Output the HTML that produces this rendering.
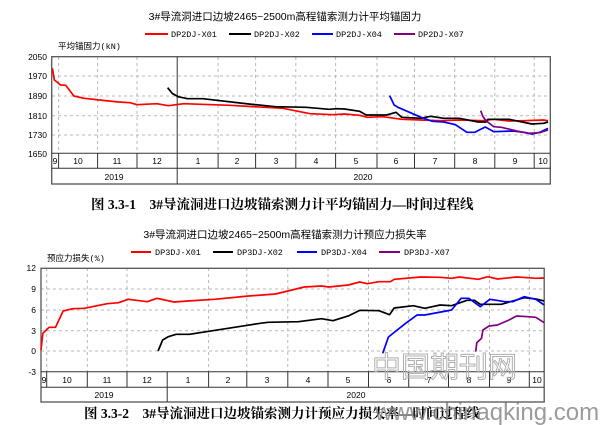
<!DOCTYPE html>
<html><head><meta charset="utf-8"><style>
html,body{margin:0;padding:0;background:#fff;}
svg{display:block;}
text{font-family:"Liberation Sans","Noto Sans CJK SC",sans-serif;}
.m{font-family:"Liberation Mono","Noto Sans CJK SC",monospace;font-size:8.5px;fill:#000;}
.t{font-size:10.5px;fill:#000;}
.cap{font-family:"Liberation Serif","Noto Serif CJK SC",serif;font-weight:bold;font-size:13.5px;fill:#000;}
.g{stroke:#b8b8b8;stroke-width:1;stroke-dasharray:3,3;fill:none;}
.s{fill:none;stroke-width:1.7;vector-effect:non-scaling-stroke;stroke-linejoin:round;}
</style></head><body>
<svg width="600" height="425" viewBox="0 0 600 425" xmlns="http://www.w3.org/2000/svg">
<!-- Chart 1 -->
<text x="285" y="20" class="t" text-anchor="middle">3#导流洞进口边坡2465~2500m高程锚索测力计平均锚固力</text>
<line x1="145" y1="34" x2="168" y2="34" stroke="#f00" stroke-width="2"/><text x="171" y="37" class="m">DP2DJ-X01</text>
<line x1="229" y1="34" x2="251" y2="34" stroke="#000" stroke-width="2"/><text x="254" y="37" class="m">DP2DJ-X02</text>
<line x1="312" y1="34" x2="333" y2="34" stroke="#00f" stroke-width="2"/><text x="336" y="37" class="m">DP2DJ-X04</text>
<line x1="394" y1="34" x2="415" y2="34" stroke="#800080" stroke-width="2"/><text x="418" y="37" class="m">DP2DJ-X07</text>
<text x="58" y="49" class="m" font-size="9">平均锚固力(kN)</text>
<g class="m" text-anchor="end" font-size="9">
<text x="47" y="60">2050</text><text x="47" y="79">1970</text><text x="47" y="99">1890</text><text x="47" y="119">1810</text><text x="47" y="138">1730</text><text x="47" y="157">1650</text></g>
<g class="g">
<line x1="52" y1="76" x2="550" y2="76"/><line x1="52" y1="96" x2="550" y2="96"/><line x1="52" y1="115.7" x2="550" y2="115.7"/><line x1="52" y1="135" x2="550" y2="135"/>
<line x1="58.6" y1="57" x2="58.6" y2="153"/><line x1="97.6" y1="57" x2="97.6" y2="153"/><line x1="137" y1="57" x2="137" y2="153"/><line x1="218.1" y1="57" x2="218.1" y2="153"/><line x1="255.6" y1="57" x2="255.6" y2="153"/><line x1="295.8" y1="57" x2="295.8" y2="153"/><line x1="335.6" y1="57" x2="335.6" y2="153"/><line x1="377" y1="57" x2="377" y2="153"/><line x1="414.5" y1="57" x2="414.5" y2="153"/><line x1="454.7" y1="57" x2="454.7" y2="153"/><line x1="494.8" y1="57" x2="494.8" y2="153"/><line x1="534.2" y1="57" x2="534.2" y2="153"/>
</g>
<rect x="51.7" y="56.7" width="498.6" height="127.3" fill="none" stroke="#555" stroke-width="1.3"/>
<line x1="51.7" y1="153.3" x2="550.3" y2="153.3" stroke="#333"/><line x1="51.7" y1="168.3" x2="550.3" y2="168.3" stroke="#333"/>
<g stroke="#333">
<line x1="58.6" y1="153.3" x2="58.6" y2="168.3"/><line x1="97.6" y1="153.3" x2="97.6" y2="168.3"/><line x1="137" y1="153.3" x2="137" y2="168.3"/><line x1="177.2" y1="56.7" x2="177.2" y2="184"/><line x1="218.1" y1="153.3" x2="218.1" y2="168.3"/><line x1="255.6" y1="153.3" x2="255.6" y2="168.3"/><line x1="295.8" y1="153.3" x2="295.8" y2="168.3"/><line x1="335.6" y1="153.3" x2="335.6" y2="168.3"/><line x1="377" y1="153.3" x2="377" y2="168.3"/><line x1="414.5" y1="153.3" x2="414.5" y2="168.3"/><line x1="454.7" y1="153.3" x2="454.7" y2="168.3"/><line x1="494.8" y1="153.3" x2="494.8" y2="168.3"/><line x1="534.2" y1="153.3" x2="534.2" y2="168.3"/>
</g>
<g class="m" text-anchor="middle" font-size="9">
<text x="55" y="164">9</text><text x="78" y="164">10</text><text x="117" y="164">11</text><text x="157" y="164">12</text><text x="198" y="164">1</text><text x="237" y="164">2</text><text x="276" y="164">3</text><text x="316" y="164">4</text><text x="356" y="164">5</text><text x="396" y="164">6</text><text x="435" y="164">7</text><text x="475" y="164">8</text><text x="515" y="164">9</text><text x="543" y="164">10</text>
<text x="114" y="180">2019</text><text x="363" y="180">2020</text></g>
<g transform="scale(0.38270,0.33333)">
<polyline class="s" stroke="#f00" points="137,205 142,240 150,247 158,255 172,256 193,288 220,295 260,300 310,306 340,308 358,314 410,311 440,317 480,311 600,316 740,325 810,341 870,344 900,342 940,346 960,352 1000,350 1050,358 1100,360 1150,362 1200,360 1260,362 1290,358 1330,363 1370,362 1420,360 1432,362"/>
<polyline class="s" stroke="#000" points="438,263 450,280 465,290 490,296 530,296 650,312 720,320 800,322 860,328 880,326 900,327 940,334 957,345 1010,345 1035,337 1050,352 1100,355 1125,349 1160,355 1200,355 1250,366 1270,366 1275,358 1330,358 1390,372 1420,370 1432,366"/>
<polyline class="s" stroke="#00f" points="1018,287 1030,315 1040,322 1100,352 1130,364 1160,366 1190,374 1220,397 1240,397 1268,381 1290,395 1340,393 1370,397 1390,402 1410,397 1432,385"/>
<polyline class="s" stroke="#800080" points="1256,332 1262,350 1270,362 1290,380 1310,382 1350,393 1380,400 1410,398 1432,390"/>
</g>
<text x="91" y="209" class="cap">图 3.3-1　3#导流洞进口边坡锚索测力计平均锚固力—时间过程线</text>

<!-- Chart 2 -->
<text x="285" y="238" class="t" text-anchor="middle">3#导流洞进口边坡2465~2500m高程锚索测力计预应力损失率</text>
<line x1="131" y1="252" x2="151" y2="252" stroke="#f00" stroke-width="2"/><text x="155" y="255" class="m">DP3DJ-X01</text>
<line x1="213" y1="252" x2="233" y2="252" stroke="#000" stroke-width="2"/><text x="237" y="255" class="m">DP3DJ-X02</text>
<line x1="297" y1="252" x2="317" y2="252" stroke="#00f" stroke-width="2"/><text x="321" y="255" class="m">DP3DJ-X04</text>
<line x1="379" y1="252" x2="400" y2="252" stroke="#800080" stroke-width="2"/><text x="404" y="255" class="m">DP3DJ-X07</text>
<text x="47" y="261" class="m" font-size="9">预应力损失(%)</text>
<g class="m" text-anchor="end" font-size="9">
<text x="36" y="271">12</text><text x="36" y="292">9</text><text x="36" y="313">6</text><text x="36" y="334">3</text><text x="36" y="354">0</text><text x="36" y="375">-3</text></g>
<g class="g">
<line x1="41" y1="289" x2="544" y2="289"/><line x1="41" y1="310" x2="544" y2="310"/><line x1="41" y1="330.7" x2="544" y2="330.7"/><line x1="41" y1="351" x2="544" y2="351"/>
<line x1="46.7" y1="268" x2="46.7" y2="372"/><line x1="87.3" y1="268" x2="87.3" y2="372"/><line x1="127" y1="268" x2="127" y2="372"/><line x1="208.6" y1="268" x2="208.6" y2="372"/><line x1="246.8" y1="268" x2="246.8" y2="372"/><line x1="287.8" y1="268" x2="287.8" y2="372"/><line x1="328" y1="268" x2="328" y2="372"/><line x1="368.5" y1="268" x2="368.5" y2="372"/><line x1="408.7" y1="268" x2="408.7" y2="372"/><line x1="448.5" y1="268" x2="448.5" y2="372"/><line x1="489.5" y1="268" x2="489.5" y2="372"/><line x1="529.3" y1="268" x2="529.3" y2="372"/>
</g>
<rect x="41" y="268.3" width="503.2" height="133.7" fill="none" stroke="#555" stroke-width="1.3"/>
<line x1="41" y1="371.7" x2="544.2" y2="371.7" stroke="#333"/><line x1="41" y1="387.3" x2="544.2" y2="387.3" stroke="#333"/>
<g stroke="#333">
<line x1="46.7" y1="371.7" x2="46.7" y2="387.3"/><line x1="87.3" y1="371.7" x2="87.3" y2="387.3"/><line x1="127" y1="371.7" x2="127" y2="387.3"/><line x1="167.2" y1="371.7" x2="167.2" y2="402"/><line x1="208.6" y1="371.7" x2="208.6" y2="387.3"/><line x1="246.8" y1="371.7" x2="246.8" y2="387.3"/><line x1="287.8" y1="371.7" x2="287.8" y2="387.3"/><line x1="328" y1="371.7" x2="328" y2="387.3"/><line x1="368.5" y1="371.7" x2="368.5" y2="387.3"/><line x1="408.7" y1="371.7" x2="408.7" y2="387.3"/><line x1="448.5" y1="371.7" x2="448.5" y2="387.3"/><line x1="489.5" y1="371.7" x2="489.5" y2="387.3"/><line x1="529.3" y1="371.7" x2="529.3" y2="387.3"/>
</g>
<g class="m" text-anchor="middle" font-size="9">
<text x="44" y="383">9</text><text x="67" y="383">10</text><text x="107" y="383">11</text><text x="147" y="383">12</text><text x="188" y="383">1</text><text x="228" y="383">2</text><text x="267" y="383">3</text><text x="308" y="383">4</text><text x="348" y="383">5</text><text x="389" y="383">6</text><text x="429" y="383">7</text><text x="469" y="383">8</text><text x="509" y="383">9</text><text x="537" y="383">10</text>
<text x="104" y="398">2019</text><text x="356" y="398">2020</text></g>
<g transform="translate(0,215) scale(0.38270,0.33333)">
<polyline class="s" stroke="#f00" points="107,405 112,355 128,337 145,337 165,288 190,281 220,280 280,266 310,263 335,253 385,260 410,250 455,261 490,258 560,253 650,243 720,237 795,216 840,213 860,216 910,210 940,201 960,206 990,200 1020,200 1030,193 1100,186 1150,187 1180,190 1200,186 1250,193 1275,185 1300,192 1350,186 1380,188 1400,190 1422,189"/>
<polyline class="s" stroke="#000" points="413,408 425,375 440,365 460,358 495,358 640,332 680,325 700,322 780,320 840,311 870,317 910,303 940,286 990,287 1018,299 1030,279 1080,272 1110,280 1150,270 1180,272 1220,256 1240,256 1255,268 1310,268 1370,248 1400,252 1422,258"/>
<polyline class="s" stroke="#00f" points="1000,415 1015,366 1060,325 1090,300 1110,300 1180,285 1205,250 1225,250 1255,275 1280,253 1320,260 1340,260 1370,245 1400,253 1422,270"/>
<polyline class="s" stroke="#800080" points="1243,410 1246,383 1258,370 1262,345 1278,333 1300,330 1330,315 1350,303 1380,305 1400,307 1422,323"/>
</g>
<text x="84" y="418" class="cap">图 3.3-2　3#导流洞进口边坡锚索测力计预应力损失率—时间过程线</text>
<text x="372" y="377" font-family="'Noto Serif CJK SC',serif" font-size="29" fill="none" stroke="#b0b0b0" stroke-width="1">中国期刊网</text>
<text x="375" y="420" font-size="24" fill="#8a8a8a" fill-opacity="0.85">www.chinaqking.com</text>
</svg>
</body></html>
